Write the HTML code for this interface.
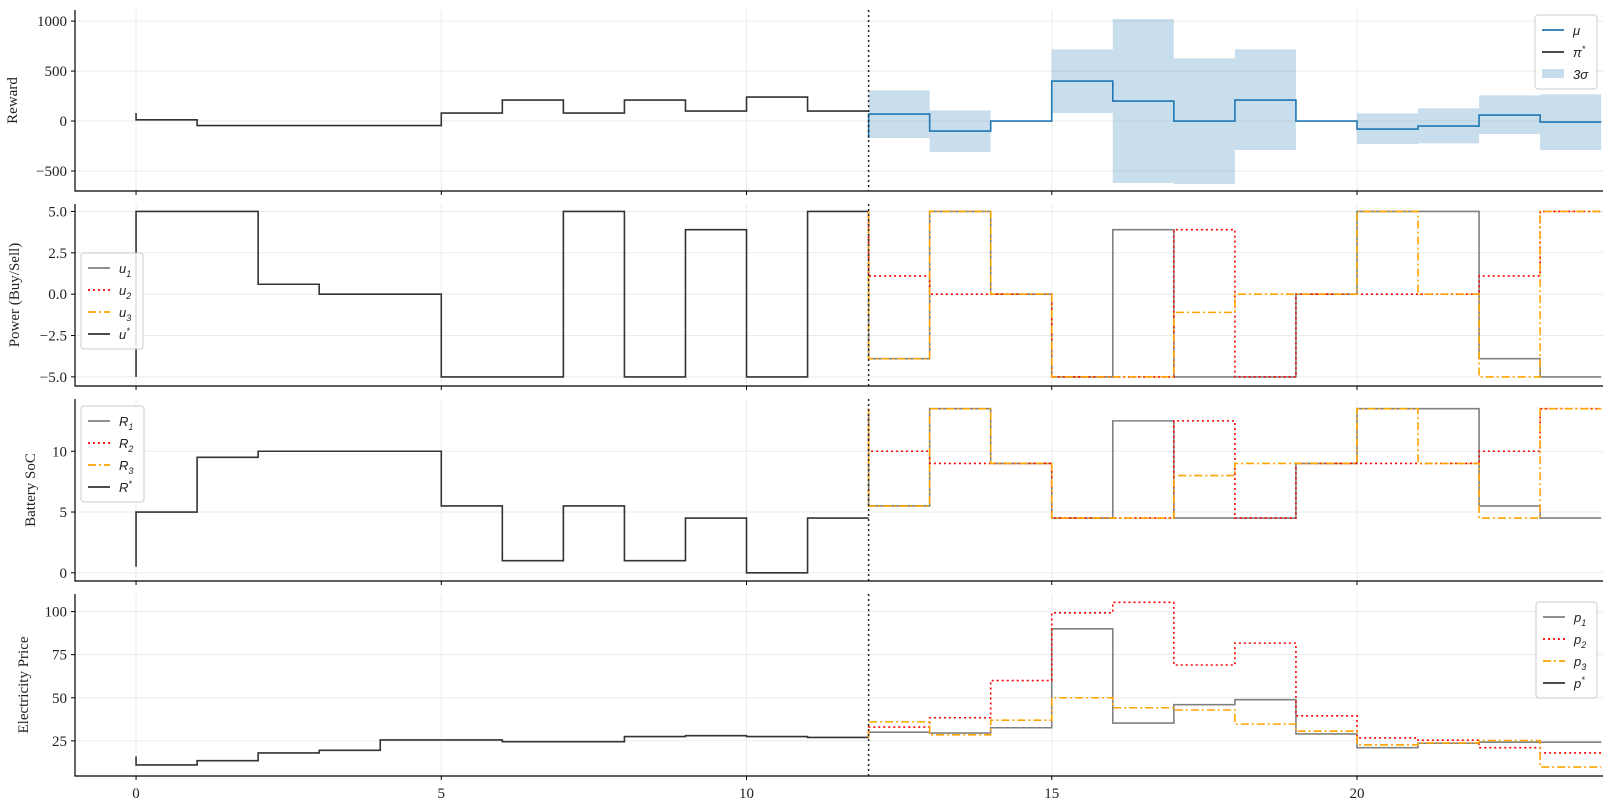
<!DOCTYPE html>
<html><head><meta charset="utf-8"><style>
html,body{margin:0;padding:0;background:#fff}
svg{display:block}
text{font-family:"Liberation Serif","DejaVu Serif",serif;fill:#222}
.tk{font-size:15px}
.lg{font-family:"Liberation Sans","DejaVu Sans",sans-serif;font-style:italic;font-size:13px}
</style></head><body>
<svg id="chart" width="1611" height="811" xmlns="http://www.w3.org/2000/svg"></svg>
<script>
// ---- data ----
const timeSteps = [0,1,2,3,4,5,6,7,8,9,10,11,12,13,14,15,16,17,18,19,20,21,22,23,24];
const xTicks = [0,5,10,15,20];
// reward
const rewardPastStart = 80;
const rewardPast = [12,-45,-45,-45,-45,80,210,80,210,100,240,100];
const rewardMuStart = -170;
const rewardMu = [70,-100,0,400,200,0,210,0,-80,-50,60,-10];
const rewardUpper = [307,107,0,717,1020,627,717,0,77,127,257,267];
const rewardLower = [-170,-310,0,80,-620,-630,-290,0,-230,-223,-130,-290];
const rewardTicks = [-500,0,500,1000];
// power
const uStarStart = -5;
const uStar = [5,5,0.6,0,0,-5,-5,5,-5,3.9,-5,5];
const u1 = [-3.9,5,0,-5,3.9,-5,-5,0,5,5,-3.9,-5];
const u2 = [1.1,0,0,-5,-5,3.9,-5,0,0,0,1.1,5];
const u3 = [-3.9,5,0,-5,-5,-1.1,0,0,5,0,-5,5];
const powerTicks = [-5,-2.5,0,2.5,5];
// battery
const rStarStart = 0.5;
const rStar = [5,9.5,10,10,10,5.5,1,5.5,1,4.5,0,4.5];
const rFutureStart = 13.5;
const r1 = [5.5,13.5,9,4.5,12.5,4.5,4.5,9,13.5,13.5,5.5,4.5];
const r2 = [10,9,9,4.5,4.5,12.5,4.5,9,9,9,10,13.5];
const r3 = [5.5,13.5,9,4.5,4.5,8,9,9,13.5,9,4.5,13.5];
const batteryTicks = [0,5,10];
// price
const pStarStart = 16;
const pStar = [11,13.5,18,19.5,25.5,25.5,24.5,24.5,27.5,28,27.5,27];
const p1 = [30,29.5,32.6,90,35.3,46,48.9,29,21,23.6,24.2,24.2];
const p2 = [33,38.4,60,99.3,105.4,69,81.7,39.5,26.7,25.4,21,18];
const p3 = [36,28.5,37,50,44.2,42.9,34.7,30.6,22.7,23.8,25.2,9.8];
const priceTicks = [25,50,75,100];

// ---- layout ----
const NS="http://www.w3.org/2000/svg";
const svg=document.getElementById('chart');
const X0=75,X1=1603,XMIN=-1,XMAX=24.03;
const xs=v=>X0+(v-XMIN)/(XMAX-XMIN)*(X1-X0);
function mk(tag,attrs,parent){const e=document.createElementNS(NS,tag);for(const k in attrs)e.setAttribute(k,attrs[k]);(parent||svg).appendChild(e);return e;}
function yscale(top,bot,lo,hi){return v=>bot-(v-lo)/(hi-lo)*(bot-top);}
function fmt(v,dec){let s=dec?v.toFixed(1):String(v);return s.replace('-','\u2212');}

function panel(name,top,bot,lo,hi,ticks,dec,label,labelX){
  const g=mk('g',{});
  
  
  const y=yscale(top,bot,lo,hi);
  // grid
  ticks.forEach(t=>{const l=mk('line',{x1:X0,x2:X1,y1:y(t),y2:y(t),stroke:'#ebebeb','stroke-width':1},g);
    
    const tl=mk('line',{x1:X0-4,x2:X0,y1:y(t),y2:y(t),stroke:'#000'},g);
    
    const tx=mk('text',{x:X0-8,y:y(t)+5,'text-anchor':'end',class:'tk'},g);tx.textContent=fmt(t,dec);
    });
  xTicks.forEach(t=>{const l=mk('line',{x1:xs(t),x2:xs(t),y1:top,y2:bot,stroke:'#ebebeb'},g);
    
    const tl=mk('line',{x1:xs(t),x2:xs(t),y1:bot,y2:bot+4,stroke:'#000'},g);
    });
  const ax=mk('path',{d:`M${X0},${top}V${bot}H${X1}`,fill:'none',stroke:'#000','stroke-width':1.2},g);
  
  const cy=(top+bot)/2;
  const lb=mk('text',{x:labelX,y:cy,'text-anchor':'middle','font-size':15,transform:`rotate(-90 ${labelX} ${cy})`},g);
  lb.textContent=label;
  return {g,y,top,bot};
}
function step(p,x0,start,vals,stroke,dash,w,name){
  let d=`M${xs(x0)},${p.y(start)}`;
  vals.forEach((v,i)=>{d+=`V${p.y(v)}H${xs(timeSteps[x0+i+1])}`;});
  const e=mk('path',{d,fill:'none',stroke,'stroke-width':w||1.6,'stroke-dasharray':dash||'none'},p.g);
  
}
function vline(p){const e=mk('line',{x1:xs(12),x2:xs(12),y1:p.top,y2:p.bot,stroke:'#222','stroke-dasharray':'2,3','stroke-width':1.5},p.g);
  }
function legend(p,x,y,w,items){
  const g=mk('g',{},p.g);
  const h=items.length*22+8;
  mk('rect',{x,y,width:w,height:h,rx:3,fill:'#fff','fill-opacity':0.85,stroke:'#ccc'},g);
  items.forEach((it,i)=>{const cy=y+15+i*22;
    let e;
    if(it.patch){e=mk('rect',{x:x+7,y:cy-5,width:22,height:9,fill:'#1f77b4','fill-opacity':0.25},g);}
    else e=mk('line',{x1:x+7,x2:x+29,y1:cy,y2:cy,stroke:it.c,'stroke-width':1.8,'stroke-dasharray':it.d||'none'},g);
    
    const t=mk('text',{x:x+38,y:cy+5,class:'lg'},g);
    t.innerHTML=it.t;});
}
const GRAY='#808080',RED='#ff0000',OR='#ffa500',BLK='#333',BLUE='#1f77b4';
const DOT='2,3',DD='8,3,2,3';

// Panel 1
const P1=panel('reward',10,191,-700,1111,rewardTicks,false,'Reward',17);
rewardUpper.forEach((u,i)=>{const l=rewardLower[i];if(u===l)return;
  const r=mk('rect',{x:xs(12+i),y:P1.y(u),width:xs(13+i)-xs(12+i),height:P1.y(l)-P1.y(u),fill:BLUE,'fill-opacity':0.24},P1.g);
  });
step(P1,0,rewardPastStart,rewardPast,BLK,null,1.6,'reward-pi-star-line');
step(P1,12,rewardMuStart,rewardMu,BLUE,null,1.6,'reward-mu-line');
vline(P1);
legend(P1,1535,15,62,[{c:BLUE,t:'μ'},{c:BLK,t:'π<tspan dy="-5" font-size="9">*</tspan>'},{patch:1,t:'3σ'}]);

// Panel 2
const P2=panel('power',204,386,-5.55,5.45,powerTicks,true,'Power (Buy/Sell)',19);
step(P2,0,uStarStart,uStar,BLK,null,1.6,'power-u-star-line');
step(P2,12,uStar[11],u1,GRAY,null,1.6,'power-u1-line');
step(P2,12,uStar[11],u2,RED,DOT,1.6,'power-u2-line');
step(P2,12,uStar[11],u3,OR,DD,1.6,'power-u3-line');
vline(P2);
legend(P2,81,253,62,[{c:GRAY,t:'u<tspan dy="4" font-size="9">1</tspan>'},{c:RED,d:DOT,t:'u<tspan dy="4" font-size="9">2</tspan>'},{c:OR,d:DD,t:'u<tspan dy="4" font-size="9">3</tspan>'},{c:BLK,t:'u<tspan dy="-5" font-size="9">*</tspan>'}]);

// Panel 3
const P3=panel('battery',399,581,-0.675,14.3,batteryTicks,false,'Battery SoC',35);
step(P3,0,rStarStart,rStar,BLK,null,1.6,'battery-r-star-line');
step(P3,12,rFutureStart,r1,GRAY,null,1.6,'battery-r1-line');
step(P3,12,rFutureStart,r2,RED,DOT,1.6,'battery-r2-line');
step(P3,12,rFutureStart,r3,OR,DD,1.6,'battery-r3-line');
vline(P3);
legend(P3,81,406,63,[{c:GRAY,t:'R<tspan dy="4" font-size="9">1</tspan>'},{c:RED,d:DOT,t:'R<tspan dy="4" font-size="9">2</tspan>'},{c:OR,d:DD,t:'R<tspan dy="4" font-size="9">3</tspan>'},{c:BLK,t:'R<tspan dy="-5" font-size="9">*</tspan>'}]);

// Panel 4
const P4=panel('price',594,776,4.6,110.2,priceTicks,false,'Electricity Price',28);
step(P4,0,pStarStart,pStar,BLK,null,1.6,'price-p-star-line');
step(P4,12,pStar[11],p1,GRAY,null,1.6,'price-p1-line');
step(P4,12,pStar[11],p2,RED,DOT,1.6,'price-p2-line');
step(P4,12,pStar[11],p3,OR,DD,1.6,'price-p3-line');
vline(P4);
legend(P4,1536,602,61,[{c:GRAY,t:'p<tspan dy="4" font-size="9">1</tspan>'},{c:RED,d:DOT,t:'p<tspan dy="4" font-size="9">2</tspan>'},{c:OR,d:DD,t:'p<tspan dy="4" font-size="9">3</tspan>'},{c:BLK,t:'p<tspan dy="-5" font-size="9">*</tspan>'}]);
xTicks.forEach(t=>{const tx=mk('text',{x:xs(t),y:798,'text-anchor':'middle',class:'tk'});tx.textContent=t;
  
  });
</script>
</body></html>
